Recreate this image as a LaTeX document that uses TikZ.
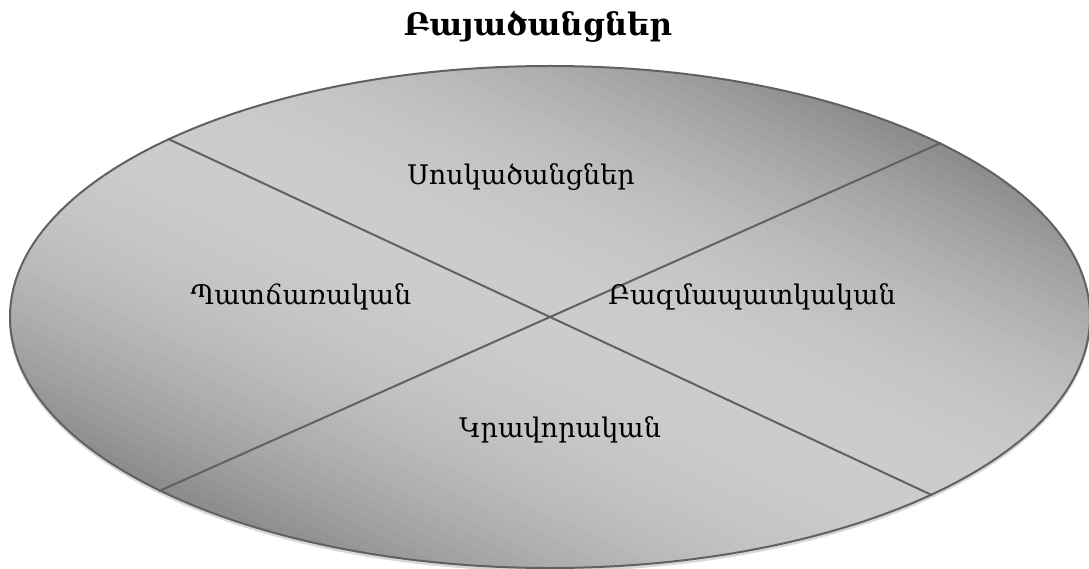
\documentclass[tikz,border=0pt]{standalone}
\usepackage{fontspec}
\setmainfont{DejaVu Serif}
\usetikzlibrary{shapes.geometric}

\begin{document}
\begin{tikzpicture}[x=1pt,y=-1pt,
  disc/.style={ellipse,draw=black!62,line width=2pt,minimum width=1080pt,minimum height=502pt,inner sep=0pt},
  cut/.style={draw=black!62,line width=2pt},
  part/.style={anchor=base,font=\fontsize{27}{32}\selectfont}]
\useasboundingbox (0,0) rectangle (1089,569);
\node[anchor=base,font=\bfseries\fontsize{31}{36}\selectfont] (title) at (538,36) {Բայածանցներ};
\coordinate (O) at (550,317);
\fill[black!30,opacity=0.5] (550,319.5) ellipse [x radius=541pt,y radius=252pt];
\begin{scope}
\clip (O) ellipse [x radius=540pt,y radius=251pt];
\foreach \i in {-34,...,33} {
   \pgfmathsetmacro\tone{20+27*((\i+0.5)/33)^2}
   \fill[black!\tone,shift={(O)},rotate=-25] (-640,\i*10) rectangle (640,\i*10+10.6);
}
\end{scope}
\node[disc] (E) at (O) {};
\draw[cut] (E.155.07) -- (E.335.07);
\draw[cut] (E.24.93) -- (E.204.93);
\foreach \n/\x/\y/\t in %
{a/521/185/Սոսկածանցներ,b/301/305/Պատճառական,c/752/305/Բազմապատկական,d/560/437/Կրավորական} {
   \node[part] (\n) at (\x,\y) {\t};
}
\end{tikzpicture}
\end{document}
